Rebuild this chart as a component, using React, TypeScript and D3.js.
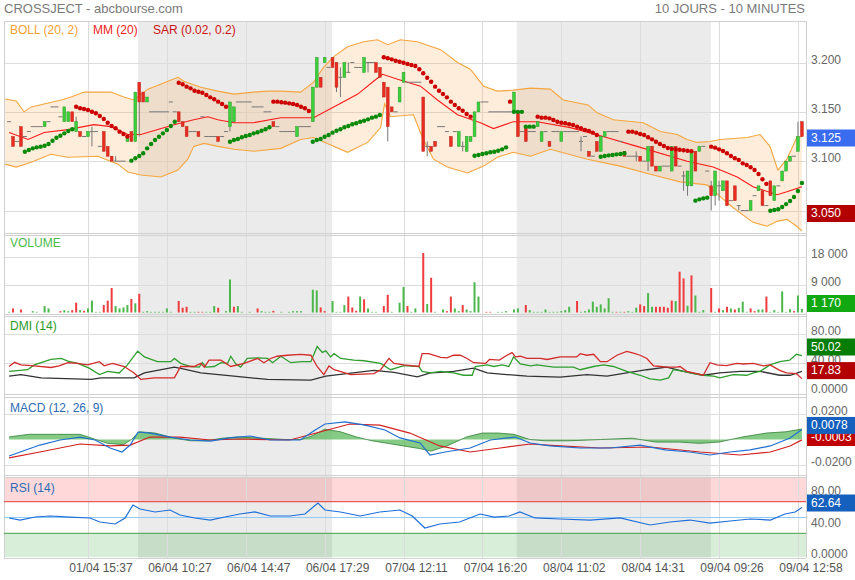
import React from 'react';
import * as d3 from 'd3';

// ---------------- DATA ----------------
const OPEN = [3.140,3.125,3.120,3.135,3.125,3.130,3.135,3.135,3.135,3.135,3.140,3.155,3.155,3.145,3.140,3.140,3.150,3.130,3.130,3.125,3.125,3.130,3.130,3.115,3.130,3.115,3.105,3.100,3.100,3.100,3.120,3.130,3.120,3.180,3.170,3.160,3.150,3.150,3.150,3.150,3.150,3.160,3.150,3.150,3.140,3.135,3.130,3.130,3.130,3.145,3.125,3.125,3.125,3.125,3.125,3.130,3.135,3.140,3.160,3.160,3.160,3.160,3.155,3.155,3.155,3.150,3.150,3.140,3.135,3.130,3.130,3.130,3.130,3.125,3.135,3.135,3.135,3.140,3.175,3.185,3.200,3.195,3.205,3.200,3.185,3.185,3.190,3.200,3.195,3.195,3.190,3.200,3.200,3.200,3.195,3.180,3.175,3.155,3.150,3.160,3.180,3.180,3.180,3.180,3.180,3.165,3.115,3.115,3.120,3.135,3.135,3.130,3.125,3.130,3.115,3.115,3.110,3.120,3.125,3.150,3.160,3.160,3.150,3.150,3.150,3.150,3.150,3.150,3.150,3.150,3.130,3.135,3.130,3.130,3.135,3.120,3.130,3.120,3.130,3.130,3.120,3.130,3.130,3.130,3.130,3.120,3.125,3.110,3.105,3.120,3.110,3.125,3.130,3.130,3.130,3.120,3.110,3.105,3.105,3.105,3.105,3.100,3.100,3.115,3.095,3.090,3.095,3.095,3.090,3.115,3.095,3.085,3.075,3.075,3.110,3.110,3.115,3.090,3.075,3.065,3.075,3.070,3.080,3.060,3.075,3.055,3.050,3.050,3.050,3.065,3.070,3.070,3.055,3.080,3.060,3.075,3.080,3.090,3.100,3.105,3.110,3.140];
const CLOSE = [3.140,3.115,3.120,3.115,3.125,3.130,3.135,3.135,3.135,3.140,3.140,3.155,3.155,3.145,3.155,3.150,3.140,3.140,3.125,3.125,3.130,3.130,3.130,3.115,3.110,3.105,3.100,3.100,3.100,3.100,3.125,3.120,3.170,3.160,3.160,3.165,3.150,3.150,3.150,3.150,3.150,3.160,3.150,3.140,3.135,3.125,3.130,3.130,3.125,3.145,3.125,3.125,3.125,3.120,3.125,3.130,3.160,3.155,3.160,3.160,3.160,3.160,3.155,3.155,3.155,3.150,3.150,3.135,3.135,3.130,3.130,3.130,3.130,3.135,3.135,3.135,3.135,3.175,3.205,3.175,3.205,3.195,3.195,3.175,3.185,3.200,3.190,3.200,3.195,3.195,3.205,3.200,3.200,3.190,3.185,3.165,3.135,3.150,3.150,3.175,3.190,3.180,3.180,3.180,3.180,3.110,3.115,3.110,3.115,3.135,3.135,3.130,3.115,3.130,3.130,3.115,3.125,3.125,3.150,3.160,3.160,3.160,3.150,3.150,3.150,3.150,3.150,3.150,3.170,3.125,3.130,3.120,3.130,3.130,3.140,3.130,3.130,3.115,3.130,3.130,3.130,3.130,3.130,3.130,3.130,3.120,3.125,3.105,3.105,3.110,3.125,3.130,3.130,3.130,3.130,3.120,3.105,3.105,3.105,3.105,3.100,3.100,3.115,3.095,3.090,3.095,3.095,3.095,3.115,3.095,3.095,3.085,3.090,3.110,3.090,3.115,3.115,3.090,3.065,3.090,3.075,3.080,3.055,3.060,3.060,3.055,3.050,3.050,3.060,3.065,3.075,3.055,3.055,3.065,3.075,3.075,3.090,3.100,3.105,3.105,3.125,3.125];
const HIGH = [3.140,3.125,3.120,3.135,3.125,3.130,3.135,3.135,3.135,3.140,3.140,3.155,3.155,3.145,3.155,3.150,3.150,3.145,3.130,3.125,3.130,3.135,3.130,3.115,3.130,3.115,3.105,3.105,3.100,3.100,3.125,3.130,3.170,3.180,3.170,3.165,3.150,3.150,3.150,3.150,3.150,3.160,3.150,3.150,3.140,3.135,3.130,3.130,3.130,3.145,3.125,3.125,3.125,3.125,3.125,3.130,3.160,3.155,3.160,3.160,3.160,3.160,3.155,3.155,3.155,3.150,3.150,3.140,3.135,3.130,3.130,3.130,3.130,3.135,3.135,3.135,3.135,3.175,3.205,3.185,3.205,3.195,3.205,3.200,3.195,3.200,3.200,3.200,3.195,3.195,3.205,3.200,3.200,3.200,3.195,3.180,3.175,3.155,3.150,3.175,3.190,3.180,3.180,3.180,3.180,3.165,3.120,3.115,3.120,3.135,3.135,3.130,3.125,3.130,3.130,3.120,3.125,3.125,3.150,3.160,3.160,3.160,3.150,3.150,3.150,3.150,3.150,3.150,3.170,3.150,3.130,3.135,3.130,3.130,3.140,3.130,3.130,3.120,3.130,3.130,3.130,3.130,3.130,3.130,3.130,3.125,3.125,3.110,3.105,3.120,3.125,3.130,3.130,3.130,3.130,3.120,3.110,3.105,3.105,3.110,3.105,3.100,3.115,3.115,3.095,3.095,3.095,3.095,3.115,3.115,3.095,3.090,3.090,3.110,3.110,3.115,3.115,3.090,3.080,3.090,3.080,3.080,3.080,3.060,3.075,3.055,3.050,3.050,3.060,3.065,3.075,3.070,3.055,3.080,3.075,3.075,3.090,3.100,3.105,3.105,3.140,3.140];
const LOW = [3.140,3.115,3.120,3.115,3.125,3.130,3.135,3.135,3.135,3.135,3.140,3.155,3.155,3.145,3.140,3.140,3.140,3.130,3.125,3.125,3.125,3.115,3.130,3.115,3.110,3.105,3.100,3.100,3.100,3.100,3.120,3.120,3.120,3.125,3.160,3.160,3.150,3.150,3.150,3.150,3.150,3.160,3.150,3.140,3.135,3.125,3.130,3.130,3.125,3.145,3.125,3.125,3.125,3.120,3.125,3.130,3.130,3.140,3.160,3.160,3.160,3.160,3.155,3.155,3.155,3.150,3.150,3.135,3.135,3.130,3.130,3.130,3.130,3.125,3.135,3.135,3.135,3.140,3.175,3.175,3.200,3.195,3.195,3.170,3.165,3.185,3.190,3.200,3.195,3.195,3.190,3.190,3.200,3.190,3.185,3.165,3.120,3.150,3.150,3.160,3.180,3.180,3.180,3.180,3.180,3.110,3.105,3.110,3.115,3.135,3.135,3.130,3.115,3.130,3.115,3.110,3.110,3.120,3.125,3.150,3.160,3.160,3.150,3.150,3.150,3.150,3.150,3.150,3.150,3.125,3.130,3.120,3.130,3.130,3.135,3.120,3.130,3.115,3.130,3.130,3.120,3.130,3.130,3.130,3.130,3.110,3.125,3.105,3.105,3.110,3.110,3.125,3.130,3.130,3.130,3.120,3.105,3.105,3.105,3.100,3.100,3.100,3.090,3.095,3.090,3.090,3.095,3.095,3.090,3.095,3.095,3.070,3.065,3.075,3.090,3.110,3.115,3.090,3.050,3.055,3.060,3.070,3.055,3.060,3.060,3.050,3.050,3.050,3.050,3.065,3.070,3.055,3.055,3.065,3.060,3.075,3.080,3.090,3.100,3.105,3.110,3.125];
const VOLUME = [210,1320,0,990,0,0,430,210,0,2100,1320,0,0,430,770,430,770,3210,770,540,1320,3870,210,210,2430,3870,7990,2100,1320,1650,2430,4430,2990,6100,210,430,210,210,210,210,1320,210,0,3760,1540,1870,210,210,210,210,210,210,2100,1540,0,430,10760,1870,2100,210,0,210,0,1320,430,210,210,540,0,210,0,210,430,430,430,0,0,7430,7200,1650,430,0,3760,210,210,2430,5200,1650,540,5200,4320,1320,210,210,0,2100,5760,210,0,3210,8320,2100,210,1320,0,19400,2760,11320,210,0,990,430,5200,1320,430,2430,990,430,9870,5200,0,210,210,0,210,210,430,0,990,1320,0,2430,770,210,210,210,990,210,210,210,430,770,1870,0,3760,210,430,990,3540,1870,2650,1320,4650,210,210,210,210,430,210,1540,2650,2100,6330,1870,1870,1870,1870,1540,3870,3760,13300,11100,2210,12100,5540,210,770,0,7990,210,1320,770,1870,1320,990,1540,3540,210,1320,430,990,990,5200,210,770,210,6870,210,1100,430,5540,1170];
const VOLUME_DIR = 'grgrgggggg' + 'gggrggrrgr' + 'ggggrrrggg' + 'grgrgggggg' + 'gggrrrggrr' + 'gggrgggrgg' + 'gggrgggrgg' + 'gggggggggr' + 'rgggggrrrg' + 'rggggrrggg' + 'grgggrgrgg' + 'grrggrgggg' + 'grrggggggg' + 'grgggggggg' + 'ggggrggggg' + 'ggggrgrggg' + 'rrggrrrrrg' + 'rrgrggggrg' + 'rgrgrgggrr' + 'ggrggggggr' + 'gg';

const SAR_SEGMENTS = [
  { up: true, start: 4, values: [3.1096,3.1113,3.1130,3.1140,3.1147,3.1157,3.1174,3.1207,3.1238,3.1258,3.1282,3.1306,3.1323] },
  { up: false, start: 17, values: [3.1552,3.1536,3.1529,3.1519,3.1501,3.1485,3.1458,3.1427,3.1390,3.1356,3.1333,3.1299,3.1275,3.1250] },
  { up: true, start: 31, values: [3.1005,3.1029,3.1052,3.1080,3.1130,3.1174,3.1215,3.1248,3.1282,3.1316,3.1356,3.1400] },
  { up: false, start: 43, values: [3.1795,3.1779,3.1755,3.1738,3.1714,3.1704,3.1694,3.1671,3.1647,3.1627,3.1603,3.1579,3.1552] },
  { up: true, start: 56, values: [3.1197,3.1214,3.1225,3.1242,3.1255,3.1265,3.1282,3.1293,3.1309,3.1323,3.1343] },
  { up: false, start: 67, values: [3.1603,3.1603,3.1597,3.1593,3.1586,3.1579,3.1569,3.1552,3.1536,3.1508] },
  { up: true, start: 77, values: [3.1197,3.1214,3.1225,3.1248,3.1265,3.1289,3.1309,3.1323,3.1343,3.1356,3.1374,3.1384,3.1400,3.1410,3.1424,3.1441,3.1451,3.1468] },
  { up: false, start: 95, values: [3.2053,3.2043,3.2032,3.2018,3.2008,3.1998,3.1985,3.1975,3.1965,3.1931,3.1891,3.1846,3.1805,3.1755,3.1714,3.1681,3.1647,3.1603,3.1569,3.1536,3.1511,3.1478,3.1451] },
  { up: true, start: 118, values: [3.1055,3.1062,3.1073,3.1080,3.1090,3.1096,3.1106,3.1120,3.1140] },
  { up: false, start: 127, values: [3.1603] },
  { up: true, start: 128, values: [3.1500,3.1500,3.1500,3.1350,3.1350,3.1350] },
  { up: false, start: 134, values: [3.1451,3.1441,3.1441,3.1434,3.1417,3.1400,3.1390,3.1384,3.1374,3.1367,3.1349,3.1333,3.1316,3.1306,3.1289,3.1265] },
  { up: true, start: 150, values: [3.1045,3.1052,3.1059,3.1062,3.1069,3.1073,3.1080] },
  { up: false, start: 157, values: [3.1299,3.1299,3.1289,3.1275,3.1265,3.1242,3.1221,3.1197,3.1174,3.1153,3.1133,3.1125,3.1120,3.1115,3.1110,3.1105,3.1100] },
  { up: true, start: 174, values: [3.0600,3.0613,3.0623,3.0630] },
  { up: false, start: 178, values: [3.1147,3.1137,3.1120,3.1103,3.1080,3.1052,3.1029,3.1012,3.0978,3.0961,3.0938,3.0911,3.0870,3.0816,3.0770] },
  { up: true, start: 193, values: [3.0498,3.0505,3.0512,3.0535,3.0565,3.0596,3.0637,3.0698,3.0779] },
];

const BOLL_UPPER: [number, number][] = [[-1,3.163],[1.8,3.161],[3.8,3.150],[5.6,3.155],[13.2,3.162],[15.7,3.165],[19,3.170],[25.8,3.170],[29.1,3.165],[31.6,3.162],[35.2,3.173],[40.3,3.181],[42.8,3.185],[44.3,3.181],[48.6,3.175],[52.9,3.171],[57,3.168],[62,3.170],[65.6,3.171],[68.9,3.171],[73.9,3.170],[77.2,3.180],[79.7,3.195],[82.3,3.206],[85.8,3.216],[89.9,3.221],[93.4,3.223],[96,3.218],[99.2,3.223],[103.5,3.221],[109.4,3.213],[113.7,3.200],[117,3.193],[120.3,3.176],[123.8,3.171],[127.8,3.172],[132.2,3.174],[137.2,3.173],[140.5,3.162],[146.8,3.157],[149.1,3.149],[153.2,3.142],[160.8,3.139],[165.1,3.130],[169.4,3.127],[171.9,3.122],[174.4,3.119],[177.7,3.120],[180.3,3.122],[187.1,3.124],[190.4,3.127],[192.9,3.115],[194.9,3.091],[197.2,3.102],[199.7,3.124],[201,3.125]];
const BOLL_LOWER: [number, number][] = [[-1,3.097],[1.8,3.094],[5.6,3.099],[10.6,3.107],[14.9,3.104],[22.5,3.105],[27.6,3.097],[30.1,3.089],[33.4,3.086],[38.5,3.084],[42.8,3.091],[45.3,3.102],[46.8,3.115],[49.4,3.118],[52.9,3.115],[57,3.112],[62,3.110],[68.9,3.113],[73.9,3.122],[77.2,3.124],[85.8,3.109],[90.9,3.119],[94.2,3.134],[95.2,3.158],[96.7,3.145],[102.5,3.147],[105,3.122],[107.6,3.102],[111.1,3.094],[116.2,3.088],[120.3,3.095],[123.8,3.104],[127.8,3.109],[132.2,3.105],[137.2,3.112],[146.6,3.102],[154.9,3.095],[163.3,3.086],[170.1,3.079],[176.9,3.076],[180.3,3.064],[183.5,3.053],[188.6,3.038],[192.2,3.034],[194.7,3.039],[197.2,3.041],[199.7,3.034],[201,3.029]];
const MM20: [number, number][] = [[0,3.129],[4.8,3.122],[8.9,3.129],[14.9,3.132],[21.5,3.137],[25.8,3.135],[30.1,3.127],[33.4,3.127],[37.7,3.132],[41.8,3.137],[46.8,3.142],[50.4,3.145],[52.9,3.142],[57,3.139],[62,3.139],[68.9,3.144],[77.2,3.144],[82.3,3.155],[88.4,3.168],[92.4,3.181],[94.7,3.188],[98.5,3.183],[104.3,3.176],[108.6,3.162],[113.7,3.147],[119.5,3.139],[122.8,3.133],[127.8,3.140],[133.9,3.140],[142.3,3.134],[150.6,3.125],[159.2,3.115],[171.9,3.100],[178.5,3.094],[184.6,3.084],[188.6,3.074],[194.7,3.066],[197.2,3.069],[201,3.074]];

const DMI_PLUS: [number, number][] = [[0,27.9],[4.7,30.2],[6.4,36.9],[10.6,44.5],[13.2,45.9],[14.9,42.3],[17.4,39.1],[20.3,32.4],[22.9,23.4],[25,27.9],[27.9,25.7],[30,36.9],[32.6,56.2],[34.3,48.1],[37.6,41.4],[41,41.4],[41.9,45.9],[43.5,39.1],[46.1,34.7],[48.2,33.8],[49,40],[49.9,33.8],[52,34.7],[53.7,40],[55.4,39.1],[56.2,49],[57.5,38.2],[58.7,33.8],[60.4,45.9],[63,46.8],[65.5,45.9],[66.8,40],[68.9,49],[71.4,40],[74.3,41.4],[76.5,41.4],[78.1,62.5],[79.4,54.4],[80.3,56.6],[81.5,48.1],[82.4,52.6],[84.1,45.9],[87.4,43.6],[90,42.7],[94.2,39.1],[96.7,30.2],[100.1,36],[103.9,34.7],[104.7,27.9],[106.8,25.7],[109.4,27.9],[112.7,25.7],[115.2,22.5],[117.4,22.5],[118.2,34.7],[121.2,36.9],[122.9,34.7],[125,36.9],[126.7,34.7],[127.9,48.1],[129.6,38.2],[132.2,35.6],[133.8,36.9],[138.1,33.8],[143.1,33.8],[144.8,30.2],[148.2,34.7],[150.7,36.9],[153.2,34.7],[156.6,27.9],[160,22.5],[162.5,17.5],[165.1,15.8],[167.2,18.9],[168.4,30.2],[171,27.9],[173.5,24.8],[176,22.5],[178.6,21.2],[180.2,18.9],[183.6,23.4],[187,22.5],[188.7,25.7],[190.4,27.9],[192.9,36.9],[195.4,41.4],[197.9,43.6],[199.6,51.7],[201,50.02]];
const DMI_MINUS: [number, number][] = [[0,34.7],[1.4,40.5],[3,36.9],[6.4,35.6],[10.6,33.3],[12.7,35.6],[14.9,40],[17.4,39.1],[19.9,36.9],[22.9,41.4],[24.1,35.6],[26.2,39.1],[29.2,34.7],[31.7,25.7],[33.4,16.7],[36.8,18.9],[41.9,18.9],[43.5,34.7],[46.9,34.7],[48.6,39.1],[49.5,33.8],[50.7,43.6],[53.7,43.6],[56.2,34.7],[59.6,39.1],[63,45.9],[64.6,40],[66.3,45.9],[68,49],[70.5,50.4],[73.9,51.7],[76.5,50.4],[78.1,34.7],[79.8,23.4],[81.1,35.6],[82.4,30.2],[86.6,23.4],[92.5,24.8],[94.2,30.2],[96.3,45.9],[97.6,39.1],[100.1,36.9],[103.9,34.7],[104.7,52.6],[106.4,52.6],[109.4,47.3],[111,46.8],[112.7,50.4],[114.4,50.4],[116.1,45.9],[117.8,40],[120.8,39.1],[121.8,44.5],[124.3,43.6],[126.2,50.4],[127.5,54],[128.4,48.1],[129.6,49],[131.3,45.9],[134.7,45.9],[136.4,44.5],[139.7,48.1],[143.9,48.1],[144.8,52.6],[146.5,50.4],[148.2,51.7],[149.9,41.4],[151.6,41.4],[154.1,50.4],[156.6,55.8],[158.3,53.5],[160,50.4],[161.7,45.9],[163.4,35.6],[165.1,34.7],[166.7,33.8],[169.3,33.8],[170.1,34.7],[171.8,27.9],[173.5,25.7],[176,22.5],[177.7,40],[179.4,36.9],[181.9,36],[184.5,39.1],[186.2,38.2],[188.7,39.1],[191.2,35.6],[192.9,36.9],[195.4,29.3],[197.1,25.7],[199.6,24.8],[201,17.83]];
const ADX: [number, number][] = [[0,21.2],[3,23.4],[8.1,18.9],[20.8,16.7],[23.3,18.9],[31.7,18.9],[34.3,25.7],[41.9,33.8],[44.4,31.1],[48.6,25.7],[57,21.2],[65.5,16.7],[76.5,15.8],[80.3,21.2],[92.5,29.3],[97.6,26.6],[103.5,20.3],[106.8,25.7],[109.4,26.6],[112.7,27.9],[117.8,32.4],[121.2,25.7],[126.2,23.4],[131.3,21.2],[139.7,19.8],[146.5,23.4],[151.6,21.2],[156.6,25.7],[161.7,30.2],[166.7,33.8],[171,27.9],[176,22.5],[180.2,25.7],[185.3,27.9],[190.4,27.9],[195.4,22.5],[198,22.5],[201,27.9]];

const MACD_LINE: [number, number][] = [[0,-0.0128],[2.8,-0.0097],[7.8,-0.0043],[12.9,-0.0004],[18,0.0019],[21.8,-0.0004],[25.6,-0.0066],[28.6,-0.0097],[30.7,-0.0043],[32.7,0.0058],[35.7,0.0050],[40.8,0.0019],[45.9,-0.0004],[51,-0.0012],[56,0.0012],[61.1,0.0027],[66.2,-0.0004],[73.8,-0.0004],[77.6,0.0074],[80.1,0.0120],[85.2,0.0136],[90.2,0.0112],[95.3,0.0074],[99.1,0.0012],[104.2,-0.0027],[106.7,-0.0120],[110.5,-0.0097],[116.9,-0.0066],[122,-0.0004],[128.3,0.0019],[132.1,-0.0027],[137.1,-0.0050],[144.8,-0.0066],[152.4,-0.0066],[160,-0.0043],[166.3,-0.0081],[172.6,-0.0097],[177.7,-0.0120],[182.8,-0.0097],[187.9,-0.0081],[193,-0.0050],[198,0.0012],[201,0.0078]];
const MACD_SIGNAL: [number, number][] = [[0,-0.0143],[7.8,-0.0097],[18,-0.0035],[25.6,-0.0050],[30.7,-0.0043],[35.7,0.0019],[43.3,0.0019],[51,-0.0004],[58.5,0.0004],[71.2,-0.0004],[78.8,0.0058],[86.4,0.0120],[94,0.0112],[101.6,0.0050],[109.2,-0.0050],[116.9,-0.0097],[124.5,-0.0066],[132.1,-0.0035],[139.7,-0.0050],[149.8,-0.0066],[162.5,-0.0058],[175.2,-0.0097],[185.3,-0.0120],[193,-0.0097],[198,-0.0050],[201,-0.0003]];
const MACD_HIST: [number, number][] = [[0,0.002],[5,0.004],[12,0.004],[18,0.004],[22,0],[25,-0.003],[29,-0.004],[31,0],[33,0.006],[37,0.005],[42,0.001],[46,-0.001],[50,-0.001],[54,0.001],[58,0.002],[64,0.001],[70,0],[74,0],[77,0.003],[80,0.008],[84,0.006],[88,0.002],[92,-0.001],[96,-0.003],[100,-0.005],[104,-0.007],[107,-0.009],[111,-0.005],[116,0.002],[120,0.005],[124,0.005],[128,0.004],[132,0],[136,-0.001],[142,-0.001],[150,0],[158,0.001],[164,-0.002],[170,-0.002],[175,-0.003],[180,-0.002],[186,0.002],[192,0.005],[197,0.006],[201,0.0081]];

const RSI: [number, number][] = [[0,49.4],[2.8,46.8],[6.6,50.6],[10.4,51.9],[15.4,50.6],[20.5,49.4],[23,44.3],[26.9,41.8],[29.4,49.4],[31.4,65.8],[33.2,60.8],[37,57],[40.8,59.5],[43.3,53.2],[47.1,49.4],[51,46.8],[54.7,50.6],[58.5,54.4],[62.3,57],[66.2,51.9],[71.2,51.9],[75,54.4],[78.3,68.4],[80.1,59.5],[84,57],[89,51.9],[94,57],[99.1,59.5],[102.2,51.9],[105.4,36.7],[109.2,41.8],[114.2,44.3],[119.4,54.4],[123,50.6],[126.8,51.9],[129.5,57],[133.3,49.4],[139.7,48.1],[147.3,46.8],[154.9,49.4],[162.5,40.5],[167.6,44.3],[172.6,46.8],[177.7,43],[182.8,45.6],[187.9,48.1],[193,46.8],[196.7,54.4],[199.3,57],[201,62.64]];

const DAY_SHADES: [number, number][] = [[33, 81], [129, 177]];
const TIME_IDX = [20, 40, 60, 80, 100, 120, 140, 160, 180, 200];
const TIME_LABELS = ['01/04 15:37', '06/04 10:27', '06/04 14:47', '06/04 17:29', '07/04 12:11', '07/04 16:20', '08/04 11:02', '08/04 14:31', '09/04 09:26', '09/04 12:58'];

const MAIN_TICKS = [3.05, 3.1, 3.15, 3.2];
const MAIN_TICK_LABELS = ['', '3.100', '3.150', '3.200'];
const VOL_TICKS = [9000, 18000];
const VOL_TICK_LABELS = ['9 000', '18 000'];
const DMI_TICKS = [0, 40, 80];
const DMI_TICK_LABELS = ['0.0000', '40.00', '80.00'];
const MACD_TICKS = [-0.02, 0.02];
const MACD_TICK_LABELS = ['-0.0200', '0.0200'];
const RSI_TICKS = [0, 40, 80];
const RSI_TICK_LABELS = ['0.0000', '40.00', '80.00'];

// ---------------- LAYOUT ----------------
const L = 4, R = 806;
const FONT = "'Liberation Sans', Arial, Helvetica, sans-serif";
const PANELS = {
  main: [21, 233], vol: [235, 314], dmi: [316, 394], macd: [397, 475], rsi: [477, 558],
};
const GRID = '#dcdcdc';

export default function App() {
  const x = d3.scaleLinear().domain([0, 201]).range([9.1, 801.9]);
  const yMain = d3.scaleLinear().domain([3.05, 3.2]).range([210.5, 62.5]);
  const yVol = d3.scaleLinear().domain([0, 18000]).range([312.5, 257.3]);
  const yDmi = d3.scaleLinear().domain([0, 80]).range([391.4, 334]);
  const yMacd = d3.scaleLinear().domain([-0.02, 0.02]).range([465.3, 413.7]);
  const yRsi = d3.scaleLinear().domain([0, 100]).range([557, 478]);

  const lineOf = (ys: d3.ScaleLinear<number, number>) =>
    d3.line<[number, number]>().x(d => x(d[0])).y(d => ys(d[1]));

  const upperPath = lineOf(yMain)(BOLL_UPPER) || '';
  const lowerPath = lineOf(yMain)(BOLL_LOWER) || '';
  const lowerRev = lineOf(yMain)([...BOLL_LOWER].reverse()) || '';
  const bandPath = upperPath + 'L' + lowerRev.slice(1) + 'Z';

  const histArea = d3.area<[number, number]>().x(d => x(d[0])).y0(yMacd(0)).y1(d => yMacd(d[1]))(MACD_HIST) || '';
  const histLine = lineOf(yMacd)(MACD_HIST) || '';

  const hGrid = (ticks: number[], ys: d3.ScaleLinear<number, number>, key: string) =>
    ticks.map((t, i) => <line key={key + i} x1={L} x2={R} y1={Math.round(ys(t)) + 0.5} y2={Math.round(ys(t)) + 0.5} stroke={GRID} />);
  const tickLabels = (ticks: number[], labels: string[], ys: d3.ScaleLinear<number, number>, key: string) =>
    ticks.map((t, i) => labels[i] ? (
      <text key={key + i} x={811} y={ys(t) - 2} dominantBaseline="middle" fontSize={12} fill="#666">{labels[i]}</text>
    ) : null);
  const valueBox = (cy: number, label: string, color: string, key: string) => (
    <g key={key}>
      <rect x={807} y={cy - 8.5} width={48} height={17} fill={color} />
      <text x={811} y={cy + 0.5} dominantBaseline="middle" fontSize={12} fill="#fff">{label}</text>
    </g>
  );

  const sarDots: JSX.Element[] = [];
  SAR_SEGMENTS.forEach((seg, si) => {
    seg.values.forEach((v, k) => {
      sarDots.push(<circle key={`s${si}-${k}`} cx={x(seg.start + k)} cy={yMain(v)} r={2.2} fill={seg.up ? '#0a8a0a' : '#cc0000'} />);
    });
  });

  return (
    <svg width={855} height={580} style={{ position: 'absolute', left: 0, top: 0, background: '#fff' }} fontFamily={FONT}>
      <rect x={0} y={0} width={855} height={580} fill="#fff" />
      {DAY_SHADES.map((d, i) => (
        <rect key={'sh' + i} x={x(d[0] - 0.3)} y={PANELS.main[0]} width={x(d[1] + 0.9) - x(d[0] - 0.3)} height={PANELS.rsi[1] - PANELS.main[0]} fill="#ebebeb" />
      ))}
      <rect x={L} y={yRsi(100)} width={R - L} height={yRsi(70) - yRsi(100)} fill="rgba(255,0,0,0.15)" />
      <rect x={L} y={yRsi(30)} width={R - L} height={yRsi(0) - yRsi(30)} fill="rgba(0,140,0,0.15)" />
      {hGrid(MAIN_TICKS, yMain, 'gm')}
      {hGrid(VOL_TICKS, yVol, 'gv')}
      {hGrid(DMI_TICKS.slice(1), yDmi, 'gd')}
      {hGrid(MACD_TICKS, yMacd, 'gc')}
      {TIME_IDX.map((t, i) => (
        <line key={'vg' + i} x1={Math.round(x(t)) + 0.5} x2={Math.round(x(t)) + 0.5} y1={PANELS.main[0]} y2={PANELS.rsi[1]} stroke={GRID} />
      ))}
      {Object.values(PANELS).map((p, i) => (
        <g key={'pb' + i}>
          <line x1={L} x2={R} y1={p[0] + 0.5} y2={p[0] + 0.5} stroke="#d0d0d0" />
          <line x1={L} x2={R} y1={p[1] + 0.5} y2={p[1] + 0.5} stroke="#d0d0d0" />
        </g>
      ))}
      <line x1={L + 0.5} x2={L + 0.5} y1={PANELS.main[0]} y2={PANELS.rsi[1]} stroke="#d0d0d0" />
      <line x1={R + 0.5} x2={R + 0.5} y1={PANELS.main[0]} y2={PANELS.rsi[1]} stroke="#d0d0d0" />

      <path d={bandPath} fill="rgba(250,165,70,0.2)" stroke="none" />
      <path d={upperPath} fill="none" stroke="#f5a640" strokeWidth={1.1} />
      <path d={lowerPath} fill="none" stroke="#f5a640" strokeWidth={1.1} />
      <path d={lineOf(yMain)(MM20) || ''} fill="none" stroke="#ff1a1a" strokeWidth={1.1} />

      {OPEN.map((o, i) => {
        const c = CLOSE[i], h = HIGH[i], l = LOW[i];
        const cx = x(i);
        const wick = h > l ? <line x1={cx} x2={cx} y1={yMain(h)} y2={yMain(l)} stroke="#777" strokeWidth={1} /> : null;
        if (o === c) {
          return (
            <g key={'c' + i}>
              {wick}
              <line x1={cx - 2} x2={cx + 2} y1={yMain(c)} y2={yMain(c)} stroke="#777" strokeWidth={1} />
            </g>
          );
        }
        const up = c > o;
        const top = yMain(Math.max(o, c)), bot = yMain(Math.min(o, c));
        return (
          <g key={'c' + i}>
            {wick}
            <rect x={cx - 1.4} y={top} width={2.8} height={Math.max(1, bot - top)}
              fill={up ? '#3bd13b' : '#ea2b1f'} stroke={up ? '#2a9a2a' : '#b8281c'} strokeWidth={0.5} />
          </g>
        );
      })}
      {sarDots}

      {VOLUME.map((v, i) => v > 0 ? (
        <rect key={'v' + i} x={x(i) - 1} y={yVol(v)} width={2} height={yVol(0) - yVol(v)} fill={VOLUME_DIR[i] === 'g' ? '#4cb84c' : '#f03c3c'} />
      ) : null)}

      <path d={lineOf(yDmi)(ADX) || ''} fill="none" stroke="#333" strokeWidth={1.3} />
      <path d={lineOf(yDmi)(DMI_PLUS) || ''} fill="none" stroke="#2f9e2f" strokeWidth={1.3} />
      <path d={lineOf(yDmi)(DMI_MINUS) || ''} fill="none" stroke="#d42a2a" strokeWidth={1.3} />

      <path d={histArea} fill="#5cb85c" fillOpacity={0.75} />
      <path d={histLine} fill="none" stroke="#2e7d32" strokeWidth={0.8} />
      <path d={lineOf(yMacd)(MACD_SIGNAL) || ''} fill="none" stroke="#d42020" strokeWidth={1.2} />
      <path d={lineOf(yMacd)(MACD_LINE) || ''} fill="none" stroke="#1f6fd1" strokeWidth={1.2} />

      <line x1={L} x2={R} y1={yRsi(70)} y2={yRsi(70)} stroke="#e53935" />
      <line x1={L} x2={R} y1={yRsi(50)} y2={yRsi(50)} stroke="#90caf9" />
      <line x1={L} x2={R} y1={yRsi(30)} y2={yRsi(30)} stroke="#43a047" />
      <path d={lineOf(yRsi)(RSI) || ''} fill="none" stroke="#1e6fd9" strokeWidth={1.2} />

      {tickLabels(MAIN_TICKS, MAIN_TICK_LABELS, yMain, 'tm')}
      {tickLabels(VOL_TICKS, VOL_TICK_LABELS, yVol, 'tv')}
      {tickLabels(DMI_TICKS, DMI_TICK_LABELS, yDmi, 'td')}
      {tickLabels(MACD_TICKS, MACD_TICK_LABELS, yMacd, 'tc')}
      {tickLabels(RSI_TICKS, RSI_TICK_LABELS, yRsi, 'tr')}

      {valueBox(yMain(3.125) + 1.5, '3.125', '#3a6cf0', 'b1')}
      {valueBox(yMain(3.05) + 3, '3.050', '#b30000', 'b2')}
      {valueBox(Math.min(yVol(1170), 303.5), '1 170', '#11a811', 'b3')}
      {valueBox(yDmi(50.02) - 8.5, '50.02', '#067d06', 'b4')}
      {valueBox(yDmi(17.83) - 8, '17.83', '#b30000', 'b5')}
      {valueBox(yMacd(-0.0003) - 2.4, '-0.0003', '#c00000', 'b7')}
      {valueBox(yMacd(0.0078) - 4, '0.0078', '#1560bd', 'b6')}
      {valueBox(yRsi(62.64) - 4.5, '62.64', '#1560bd', 'b8')}

      <text x={4} y={13} fontSize={13} fill="#7a7a7a">CROSSJECT - abcbourse.com</text>
      <text x={805} y={13} fontSize={13} fill="#7a7a7a" textAnchor="end">10 JOURS - 10 MINUTES</text>
      <text x={10} y={33.5} fontSize={12} fill="#f5a030">BOLL (20, 2)</text>
      <text x={93} y={33.5} fontSize={12} fill="#ee1c1c">MM (20)</text>
      <text x={153} y={33.5} fontSize={12} fill="#cc1414">SAR (0.02, 0.2)</text>
      <text x={10} y={247} fontSize={12} fill="#4cbb4c">VOLUME</text>
      <text x={10} y={329.5} fontSize={12} fill="#2a9a2a">DMI (14)</text>
      <text x={10} y={411.5} fontSize={12} fill="#2d6bb5">MACD (12, 26, 9)</text>
      <text x={10} y={492} fontSize={12} fill="#2d6bb5">RSI (14)</text>

      {TIME_IDX.map((t, i) => (
        <text key={'xl' + i} x={x(t) + 13} y={571.5} fontSize={12} fill="#555" textAnchor="middle">{TIME_LABELS[i]}</text>
      ))}
    </svg>
  );
}
